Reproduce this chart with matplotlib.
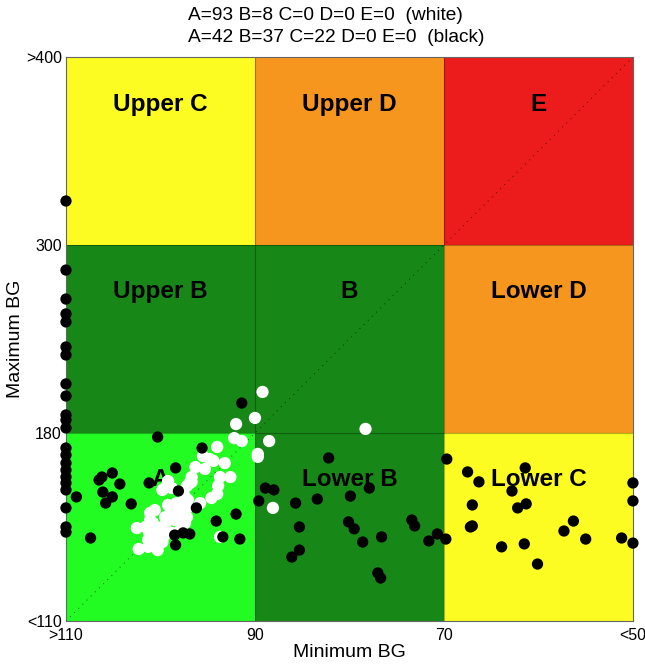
import matplotlib
matplotlib.use("Agg")
import matplotlib.pyplot as plt
from matplotlib.patches import Rectangle
import numpy as np

plt.rcParams['font.family'] = ['Liberation Sans', 'DejaVu Sans']

# zone boundaries (min BG runs high -> low, max BG low -> high)
min_bounds = [110, 90, 70, 50]
max_bounds = [110, 180, 300, 400]
x_ticklabels = ['>110', '90', '70', '<50']
y_ticklabels = ['<110', '180', '300', '>400']

zone_names = [['A', 'Lower B', 'Lower C'],
              ['Upper B', 'B', 'Lower D'],
              ['Upper C', 'Upper D', 'E']]
zone_colors = [['#22fc22', '#178817', '#fcfc22'],
               ['#178817', '#178817', '#f7961f'],
               ['#fcfc22', '#f7961f', '#ec1c1c']]

title_lines = ['A=93 B=8 C=0 D=0 E=0  (white)',
               'A=42 B=37 C=22 D=0 E=0  (black)']

# white subjects: (min BG, max BG)
white_min = [89.2, 90.0, 92.0, 92.2, 91.4, 88.5, 89.7, 89.7, 94.0, 95.5,
             94.8, 94.4, 93.2, 96.3, 95.3, 93.7, 92.6, 93.9, 94.0, 94.6,
             96.7, 97.2, 97.6, 99.2, 99.4, 99.0, 98.3, 95.8, 96.9, 98.8,
             97.1, 97.7, 99.2, 98.8, 99.5, 101.1, 100.8, 101.2, 101.3, 97.9,
             97.2, 97.4, 97.9, 99.5, 98.8, 99.7, 100.3, 100.3, 102.5, 102.3,
             93.7, 100.6, 101.1, 99.2, 99.8, 100.6, 101.1, 98.5, 101.6, 100.9,
             100.4, 99.8, 101.3, 99.8, 97.4, 97.1, 96.7, 78.3, 88.1]
white_max = [206.2, 189.6, 185.7, 178.1, 177.0, 177.0, 172.2, 171.1, 174.8, 171.4,
             170.3, 169.6, 168.8, 167.3, 166.6, 163.6, 163.6, 160.3, 157.3, 155.8,
             163.6, 160.3, 157.7, 162.1, 159.9, 152.4, 153.9, 153.9, 161.4, 159.5,
             155.1, 152.4, 153.2, 150.6, 148.7, 150.2, 146.5, 142.8, 140.2, 150.2,
             148.7, 146.5, 143.9, 145.0, 142.8, 141.3, 139.0, 136.4, 144.6, 136.8,
             141.3, 151.3, 147.6, 148.7, 145.0, 143.1, 140.9, 147.6, 145.0, 142.8,
             137.6, 139.4, 137.6, 158.8, 156.2, 152.4, 161.8, 182.6, 152.1]

# black subjects: (min BG, max BG)
black_min = [110, 110, 110, 110, 110, 110, 110, 110, 110, 110,
             110, 110, 110, 110, 110, 110, 110, 110, 110, 110,
             110, 110, 108.9,
             100.3, 95.6, 98.4, 105.1, 106.2, 106.5, 104.3, 101.2, 106.1, 105.1,
             105.8, 103.1, 98.1, 96.2, 92.0, 94.1, 98.5, 97.6, 96.9, 98.4,
             93.4, 91.6, 107.4, 91.4,
             82.2, 88.9, 88.0, 89.6, 85.7, 83.4, 79.9, 77.9, 85.3, 80.1,
             79.5, 78.6, 76.6, 85.3, 86.1, 73.4, 73.1, 70.7, 71.6, 77.0, 76.7,
             69.7, 67.5, 66.3, 61.4, 62.8, 67.0, 62.2, 61.3, 67.0, 67.2,
             69.8, 63.9, 61.5, 60.1, 57.3, 56.3, 55.0, 51.2, 50, 50, 50]
black_max = [323.4, 284.0, 265.5, 256.0, 250.9, 234.9, 229.8, 211.3, 203.6, 191.5,
             188.3, 183.2, 174.4, 171.8, 168.8, 166.2, 163.6, 161.4, 158.8, 152.1,
             145.0, 143.1, 156.2,
             178.5, 174.4, 167.0, 165.1, 163.6, 162.5, 161.0, 161.4, 158.0, 156.2,
             153.9, 153.6, 158.4, 152.1, 149.8, 147.2, 142.0, 142.8, 142.4, 138.3,
             141.3, 140.5, 140.9, 199.1,
             170.7, 159.5, 158.8, 154.7, 153.9, 155.4, 156.5, 159.5, 145.0, 146.9,
             144.3, 139.4, 141.3, 136.4, 133.8, 147.6, 145.4, 142.4, 139.8, 127.9, 126.0,
             170.3, 165.5, 161.8, 167.0, 158.4, 153.2, 152.1, 153.6, 145.4, 145.0,
             140.5, 137.6, 138.7, 131.2, 143.5, 147.2, 140.5, 140.9, 139.0, 161.4, 154.7]


def to_x(v):
    return np.interp(v, min_bounds[::-1], [3, 2, 1, 0])


def to_y(v):
    return np.interp(v, max_bounds, [0, 1, 2, 3])


fig = plt.figure(figsize=(6.45, 6.66), dpi=100)
ax = fig.add_axes([0.1023, 0.0676, 0.879, 0.8468])

for r in range(3):
    for c in range(3):
        ax.add_patch(Rectangle((c, r), 1, 1, facecolor=zone_colors[r][c],
                               edgecolor='none', zorder=0))
        ax.text(c + 0.5, r + 0.75, zone_names[r][c], ha='center', va='center',
                fontsize=17.5, fontweight='bold', color='black', zorder=1)

for k in (1, 2):
    ax.axvline(k, color='black', lw=0.8, alpha=0.3, zorder=1)
    ax.axhline(k, color='black', lw=0.8, alpha=0.3, zorder=1)

ax.plot([0, 3], [0, 3], color='black', lw=0.7, ls=(0, (1, 5)), alpha=0.6, zorder=1)

ax.scatter(to_x(white_min), to_y(white_max), s=78, color='white',
           edgecolors='none', zorder=3, clip_on=False)
ax.scatter(to_x(black_min), to_y(black_max), s=66, color='black',
           edgecolors='none', zorder=4, clip_on=False)

ax.set_xlim(0, 3)
ax.set_ylim(0, 3)
ax.set_xticks([0, 1, 2, 3])
ax.set_xticklabels(x_ticklabels)
ax.set_yticks([0, 1, 2, 3])
ax.set_yticklabels(y_ticklabels)
ax.tick_params(length=0, labelsize=11.5)
ax.tick_params(axis='x', pad=5)
ax.tick_params(axis='y', pad=3)
ax.set_xlabel('Minimum BG', fontsize=14, labelpad=1)
ax.set_ylabel('Maximum BG', fontsize=14, labelpad=1)
for s in ax.spines.values():
    s.set_linewidth(0.8)
    s.set_color('#666666')

fig.text(188 / 645, 1 - 15.5 / 666, title_lines[0], ha='left', va='center', fontsize=13.8)
fig.text(188 / 645, 1 - 38 / 666, title_lines[1], ha='left', va='center', fontsize=13.8)

fig.savefig('out.png', dpi=100)
